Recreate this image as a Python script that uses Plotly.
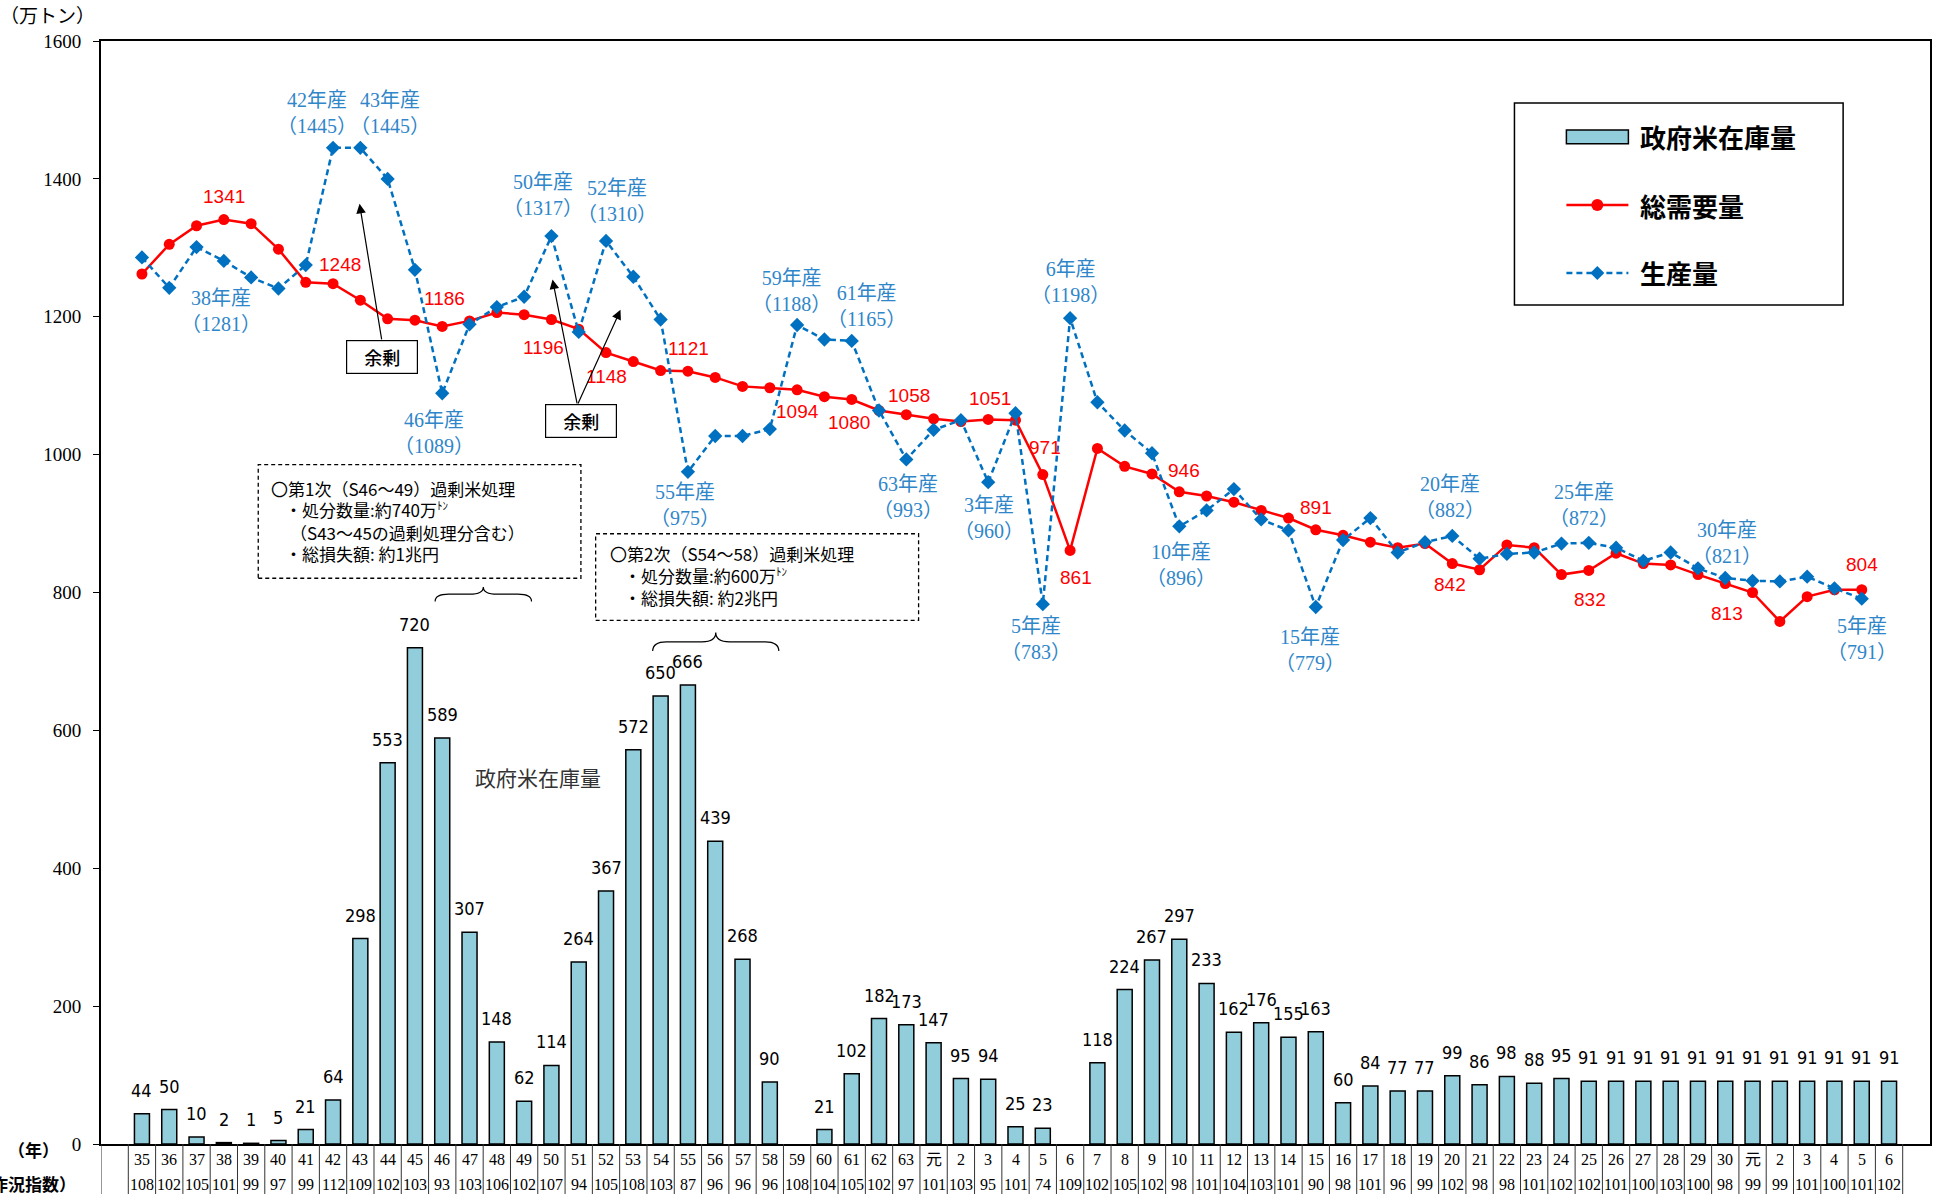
import plotly.graph_objects as go

# ---------------- data ----------------
year_labels = ["35","36","37","38","39","40","41","42","43","44","45","46","47","48","49",
               "50","51","52","53","54","55","56","57","58","59","60","61","62","63",
               "元","2","3","4","5","6","7","8","9","10","11","12","13","14","15","16",
               "17","18","19","20","21","22","23","24","25","26","27","28","29","30",
               "元","2","3","4","5","6"]
crop_index = [108,102,105,101,99,97,99,112,109,102,103,93,103,106,102,
              107,94,105,108,103,87,96,96,96,108,104,105,102,97,
              101,103,95,101,74,109,102,105,102,98,101,104,103,101,90,98,
              101,96,99,102,98,98,101,102,102,101,100,103,100,98,
              99,99,101,100,101,102]
stock = [44,50,10,2,1,5,21,64,298,553,720,589,307,148,62,
         114,264,367,572,650,666,439,268,90,None,21,102,182,173,
         147,95,94,25,23,None,118,224,267,297,233,162,176,155,163,60,
         84,77,77,99,86,98,88,95,91,91,91,91,91,91,
         91,91,91,91,91,91]
demand = [1262,1305,1332,1341,1335,1298,1250,1248,1224,1197,1195,1186,1194,1206,1203,
          1196,1182,1148,1135,1122,1121,1112,1099,1097,1094,1084,1080,1064,1058,
          1052,1048,1051,1050,971,861,1009,983,972,946,940,931,919,908,891,883,
          873,865,871,842,833,869,865,826,832,857,842,840,826,813,
          800,758,794,804,804,None]
production = [1286,1242,1301,1281,1257,1241,1275,1445,1445,1400,1268,1089,1189,1214,1229,
              1317,1178,1310,1258,1196,975,1027,1027,1037,1188,1167,1165,1064,993,
              1036,1050,960,1060,783,1198,1076,1035,1002,896,919,950,906,890,779,876,
              908,858,873,882,849,856,858,871,872,865,846,858,835,821,
              817,816,823,806,791,None]
series_names = ["政府米在庫量", "総需要量", "生産量"]

x = list(range(len(year_labels)))

# labelled points: (index, dx, dy) offsets for label placement
prod_labels = [(3,-0.1,-72),(7,-0.6,51),(8,1.1,51),(11,-0.3,-58),(15,-0.3,60),(17,0.4,58),
               (20,-0.1,-48),(24,-0.2,49),(26,0.55,51),(28,0.05,-55),(31,0.03,-52),
               (33,-0.25,-51),(34,0.02,52),(38,0.05,-56),(43,-0.2,-63),(48,-0.07,56),
               (53,-0.18,55),(58,0.07,51),(63,0.0,-59)]
demand_labels = [(3,0,33),(7,0.25,28),(11,0.1,41),(15,-0.28,-40),(17,0.03,-35),(20,0.02,33),
                 (24,0.01,-31),(26,-0.09,-33),(28,0.09,28),(31,0.08,31),(33,0.07,40),
                 (34,0.2,-39),(38,0.19,31),(43,-0.01,32),(48,-0.07,-30),(53,0.05,-42),
                 (58,0.07,-44),(63,0.01,36)]

RED = "#FF0000"
BLUE = "#0070C0"
BLUE_TXT = "#2F86C9"
BAR = "#92CDDC"
SERIF = "Liberation Serif, DejaVu Serif, Noto Sans CJK JP"
JP = "Noto Sans CJK JP"
SANS = "Liberation Sans, Arial"
COND = "DejaVu Sans Condensed, Liberation Sans, Arial"

fig = go.Figure()
fig.add_trace(go.Bar(
    x=x, y=stock, name=series_names[0], width=0.55,
    marker=dict(color=BAR, line=dict(color="black", width=1.5))))
fig.add_trace(go.Scatter(
    x=x, y=demand, name=series_names[1], mode="lines+markers",
    line=dict(color=RED, width=2.5), marker=dict(symbol="circle", size=11, color=RED)))
fig.add_trace(go.Scatter(
    x=x, y=production, name=series_names[2], mode="lines+markers",
    line=dict(color=BLUE, width=2.5, dash="6px,4px"),
    marker=dict(symbol="diamond", size=11, color=BLUE)))

ann = []
# bar value labels
for i, v in enumerate(stock):
    if v is None:
        continue
    ann.append(dict(x=i, y=v, xref="x", yref="y", showarrow=False, text=str(v),
                    yanchor="bottom", yshift=11,
                    font=dict(family=COND, size=18, color="black")))
for i, dx, dy in prod_labels:
    ann.append(dict(x=i+dx, y=production[i]+dy, xref="x", yref="y", showarrow=False,
                    text=f"{year_labels[i]}年産<br>（{production[i]}）",
                    font=dict(family=SERIF, size=20, color=BLUE_TXT)))
for i, dx, dy in demand_labels:
    ann.append(dict(x=i+dx, y=demand[i]+dy, xref="x", yref="y", showarrow=False,
                    text=str(demand[i]), font=dict(family=SANS, size=19, color=RED)))

# table below x axis
for i, (yl, ci) in enumerate(zip(year_labels, crop_index)):
    ann.append(dict(x=i, y=-0.0136, xref="x", yref="paper", showarrow=False, text=yl,
                    yanchor="middle", font=dict(family=SERIF, size=16, color="black")))
    ann.append(dict(x=i, y=-0.037, xref="x", yref="paper", showarrow=False, text=str(ci),
                    yanchor="middle", font=dict(family=SERIF, size=16, color="black")))
ann.append(dict(x=-0.037, y=-0.0054, xref="paper", yref="paper", showarrow=False, text="（年）",
                xanchor="center", yanchor="middle", font=dict(family=JP, size=17, color="black", weight="bold")))
ann.append(dict(x=-0.0126, y=-0.0354, xref="paper", yref="paper", showarrow=False, text="（作況指数）",
                xanchor="right", yanchor="middle", font=dict(family=JP, size=17, color="black", weight="bold")))
ann.append(dict(x=-0.0295, y=1.0225, xref="paper", yref="paper", showarrow=False, text="（万トン）",
                xanchor="center", yanchor="middle", font=dict(family=SERIF, size=19, color="black")))

# 余剰 boxes and arrows
ann.append(dict(x=7.97, y=1364, ax=8.79, ay=1165, xref="x", yref="y", axref="x", ayref="y",
                text="", showarrow=True, arrowhead=2, arrowsize=1.6, arrowwidth=1.2, arrowcolor="black"))
ann.append(dict(x=15.04, y=1254, ax=15.95, ay=1072, xref="x", yref="y", axref="x", ayref="y",
                text="", showarrow=True, arrowhead=2, arrowsize=1.6, arrowwidth=1.2, arrowcolor="black"))
ann.append(dict(x=17.53, y=1210, ax=15.95, ay=1072, xref="x", yref="y", axref="x", ayref="y",
                text="", showarrow=True, arrowhead=2, arrowsize=1.6, arrowwidth=1.2, arrowcolor="black"))
for bx, by in [(8.79, 1141.5), (16.08, 1048.3)]:
    ann.append(dict(x=bx, y=by, xref="x", yref="y", showarrow=False, text="余剰",
                    width=68, height=30, bgcolor="white", bordercolor="black", borderwidth=1.2,
                    font=dict(family=JP, size=18, color="black", weight=500)))

# dashed boxes text
TON = "<sup><span style='font-size:11px'>ﾄﾝ</span></sup>"
box_lines = [
    (4.67, 951, "〇第1次（S46～49）過剰米処理"),
    (5.16, 920, "・処分数量:約740万" + TON),
    (5.34, 887, "（S43～45の過剰処理分含む）"),
    (5.16, 857, "・総損失額: 約1兆円"),
    (17.08, 857, "〇第2次（S54～58）過剰米処理"),
    (17.58, 825, "・処分数量:約600万" + TON),
    (17.58, 793, "・総損失額: 約2兆円"),
]
for bx, by, t in box_lines:
    ann.append(dict(x=bx, y=by, xref="x", yref="y", showarrow=False, text=t,
                    xanchor="left", yanchor="middle", font=dict(family=JP, size=17, color="black")))

ann.append(dict(x=14.5, y=532, xref="x", yref="y", showarrow=False, text="政府米在庫量",
                font=dict(family=JP, size=21, color="#333333")))

shapes = []
shapes.append(dict(type="rect", xref="x", yref="y", x0=4.26, x1=16.08, y0=820.7, y1=985.5,
                   line=dict(color="black", width=1.3, dash="4px,3px"), fillcolor="white", layer="below"))
shapes.append(dict(type="rect", xref="x", yref="y", x0=16.62, x1=28.45, y0=759.7, y1=885.2,
                   line=dict(color="black", width=1.3, dash="4px,3px"), fillcolor="white", layer="below"))


def brace(x0, x1, yb, yt):
    xc = (x0 + x1) / 2
    ym = (yb + yt) / 2
    d = 0.5
    return (f"M {x0},{yb} Q {x0},{ym} {x0+d},{ym} L {xc-d},{ym} Q {xc},{ym} {xc},{yt} "
            f"Q {xc},{ym} {xc+d},{ym} L {x1-d},{ym} Q {x1},{ym} {x1},{yb}")


shapes.append(dict(type="path", xref="x", yref="y", path=brace(10.74, 14.27, 787, 808),
                   line=dict(color="black", width=1.2)))
shapes.append(dict(type="path", xref="x", yref="y", path=brace(18.71, 23.33, 715, 742),
                   line=dict(color="black", width=1.2)))

# table grid lines
for k in range(-1, len(year_labels) + 1):
    shapes.append(dict(type="line", xref="x", yref="paper", x0=k - 0.5, x1=k - 0.5, y0=0, y1=-0.06,
                       line=dict(color="#333333", width=1)))

# ---- legend (drawn as a framed key) ----
LX0, LX1, LY0, LY1 = 0.7728, 0.9525, 0.7607, 0.9438
shapes.append(dict(type="rect", xref="paper", yref="paper", x0=LX0, x1=LX1, y0=LY0, y1=LY1,
                   line=dict(color="black", width=1.5), fillcolor="white", layer="above"))
key_y = [0.9130, 0.8513, 0.7897]
sx0, sx1, sxc = 0.8012, 0.8351, 0.8181
shapes.append(dict(type="rect", xref="paper", yref="paper", x0=sx0, x1=sx1,
                   y0=key_y[0] - 0.0062, y1=key_y[0] + 0.0062,
                   line=dict(color="black", width=1.5), fillcolor=BAR, layer="above"))
shapes.append(dict(type="line", xref="paper", yref="paper", x0=sx0, x1=sx1, y0=key_y[1], y1=key_y[1],
                   line=dict(color=RED, width=2.5), layer="above"))
shapes.append(dict(type="circle", xref="paper", yref="paper", xsizemode="pixel", ysizemode="pixel",
                   xanchor=sxc, yanchor=key_y[1], x0=-6, x1=6, y0=-6, y1=6,
                   line=dict(color=RED, width=0), fillcolor=RED, layer="above"))
shapes.append(dict(type="line", xref="paper", yref="paper", x0=sx0, x1=sx1, y0=key_y[2], y1=key_y[2],
                   line=dict(color=BLUE, width=2.5, dash="6px,4px"), layer="above"))
shapes.append(dict(type="path", xref="paper", yref="paper", xsizemode="pixel", ysizemode="pixel",
                   xanchor=sxc, yanchor=key_y[2], path="M 0,7 L 7,0 L 0,-7 L -7,0 Z",
                   line=dict(color=BLUE, width=0), fillcolor=BLUE, layer="above"))
for ky, name in zip(key_y, series_names):
    ann.append(dict(x=0.8405, y=ky, xref="paper", yref="paper", showarrow=False, text=name,
                    xanchor="left", yanchor="middle",
                    font=dict(family=JP, size=26, color="black", weight="bold")))

fig.update_layout(
    width=1939, height=1194,
    margin=dict(l=101, r=7, t=41, b=50),
    plot_bgcolor="white", paper_bgcolor="white",
    annotations=ann, shapes=shapes,
    showlegend=False,
    xaxis=dict(range=[-1.5, 65.5], showticklabels=False, ticks="", showgrid=False, zeroline=False,
               showline=True, linecolor="black", linewidth=1.5, mirror=True),
    yaxis=dict(range=[0, 1600], dtick=200, ticks="outside", ticklen=6, tickcolor="black",
               ticklabelstandoff=8,
               showgrid=False, zeroline=False, showline=True, linecolor="black", linewidth=2,
               mirror=True, tickfont=dict(family=SERIF, size=19, color="black")),
)

fig.write_html("out.html", config={"displayModeBar": False},
               post_script="document.body.style.margin='0';")
